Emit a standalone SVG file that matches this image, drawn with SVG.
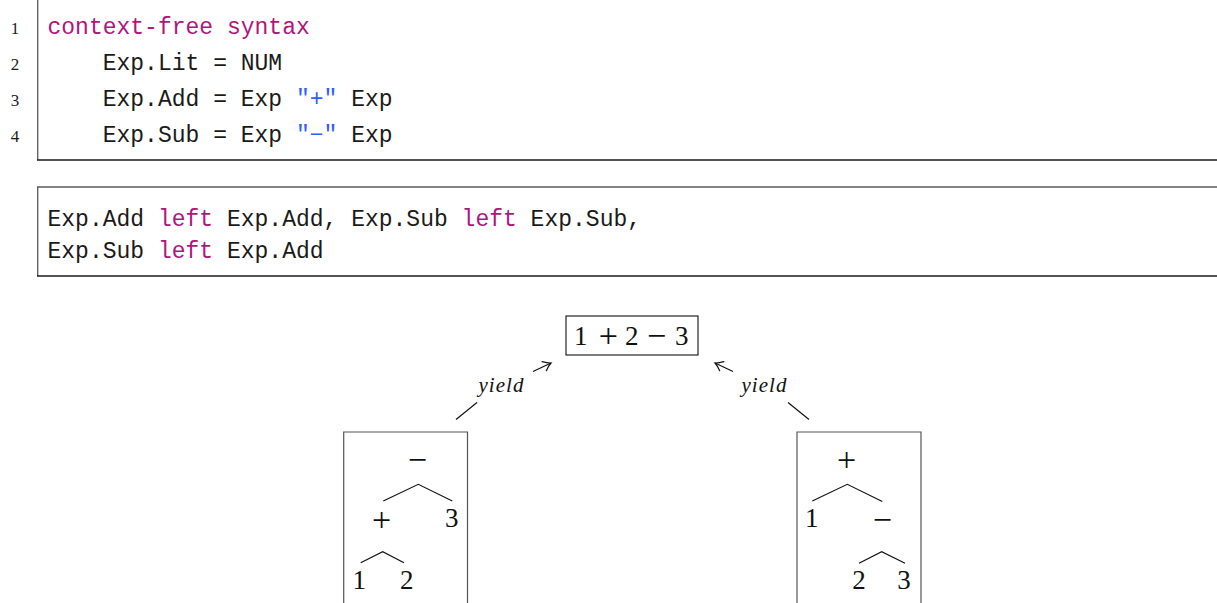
<svg xmlns="http://www.w3.org/2000/svg" width="1217" height="603" viewBox="0 0 1217 603">
  <style>
    .code { font-family: "Liberation Mono", "DejaVu Sans Mono", monospace; font-size: 23px; fill: #1a1a1a; white-space: pre; }
    .kw { fill: #b0157e; }
    .str { fill: #2f5cff; }
    .lnum { font-family: "Liberation Serif", serif; font-size: 17px; fill: #1a1a1a; text-anchor: middle; }
    .frame-soft { stroke: #5a5a5a; stroke-width: 1.3; fill: none; }
    .frame-hard { stroke: #1a1a1a; stroke-width: 1.5; fill: none; }
    .math { font-family: "Liberation Serif", "DejaVu Serif", serif; font-size: 27px; fill: #111; text-anchor: middle; }
    .op { font-family: "Liberation Serif", "DejaVu Serif", serif; font-size: 34px; fill: #111; text-anchor: middle; }
    .lbl { font-family: "Liberation Serif", "DejaVu Serif", serif; font-style: italic; font-size: 21px; fill: #111; text-anchor: middle; }
    .edge { stroke: #111; stroke-width: 1.2; fill: none; }
    .box { stroke: #555; stroke-width: 1.2; fill: none; }
  </style>
  <defs>
    <marker id="to" markerUnits="userSpaceOnUse" markerWidth="16" markerHeight="16" viewBox="-10 -8 12 16" refX="0" refY="0" orient="auto">
      <path d="M -7.5 -5 Q -3 -1.2 0 0 Q -3 1.2 -7.5 5" fill="none" stroke="#111" stroke-width="1.2" stroke-linecap="round"/>
    </marker>
  </defs>

  <rect width="1217" height="603" fill="#ffffff"/>

  <!-- grammar listing -->
  <g id="code-decl">
    <line class="frame-soft" x1="37.7" y1="0" x2="37.7" y2="160"/>
    <line class="frame-hard" x1="37" y1="160" x2="1217" y2="160"/>
    <text class="lnum" x="15" y="34">1</text>
    <text class="lnum" x="15" y="70">2</text>
    <text class="lnum" x="15" y="106">3</text>
    <text class="lnum" x="15" y="142">4</text>
    <text class="code" x="47.5" y="34"><tspan class="kw">context-free syntax</tspan></text>
    <text class="code" x="47.5" y="70">    Exp.Lit = NUM</text>
    <text class="code" x="47.5" y="106">    Exp.Add = Exp <tspan class="str">"+"</tspan> Exp</text>
    <text class="code" x="47.5" y="142">    Exp.Sub = Exp <tspan class="str">"−"</tspan> Exp</text>
  </g>

  <!-- priority declarations -->
  <g id="code-prio">
    <line class="frame-soft" x1="37" y1="187" x2="1217" y2="187"/>
    <line class="frame-soft" x1="37.7" y1="187" x2="37.7" y2="276"/>
    <line class="frame-hard" x1="37" y1="276" x2="1217" y2="276"/>
    <text class="code" x="47.5" y="226">Exp.Add <tspan class="kw">left</tspan> Exp.Add, Exp.Sub <tspan class="kw">left</tspan> Exp.Sub,</text>
    <text class="code" x="47.5" y="258">Exp.Sub <tspan class="kw">left</tspan> Exp.Add</text>
  </g>

  <!-- sentence -->
  <g id="formula">
    <rect x="566" y="316" width="132" height="39" fill="none" stroke="#111" stroke-width="1.1"/>
    <text class="math" x="580.7" y="345">1</text>
    <text class="op" x="608.3" y="347">+</text>
    <text class="math" x="631.7" y="345">2</text>
    <text class="op" x="656.7" y="347">−</text>
    <text class="math" x="681.7" y="345">3</text>
  </g>

  <!-- left-associative tree: (1 + 2) − 3 -->
  <g id="tree-left">
    <path class="box" d="M 343.7 603 V 432 H 467.5 V 603"/>
    <text class="op" x="417.3" y="470.5">−</text>
    <path class="edge" d="M 383.3 501 L 418.3 484.3 L 452.3 501"/>
    <text class="op" x="381.7" y="531">+</text>
    <text class="math" x="451.7" y="527">3</text>
    <path class="edge" d="M 360.7 562.7 L 382.7 551.7 L 404 562.7"/>
    <text class="math" x="359.3" y="588.5">1</text>
    <text class="math" x="406.7" y="588.5">2</text>
  </g>

  <!-- right-associative tree: 1 + (2 − 3) -->
  <g id="tree-right">
    <path class="box" d="M 797 603 V 432 H 921 V 603"/>
    <text class="op" x="846.7" y="471">+</text>
    <path class="edge" d="M 812.3 501 L 847.3 484.3 L 882.3 501.5"/>
    <text class="math" x="811.7" y="527">1</text>
    <text class="op" x="882.3" y="530.5">−</text>
    <path class="edge" d="M 859 563.3 L 881.7 551.7 L 905 563.3"/>
    <text class="math" x="859" y="588.5">2</text>
    <text class="math" x="904" y="588.5">3</text>
  </g>

  <!-- yield connectors -->
  <g id="connectors">
    <line class="edge" x1="456" y1="419.5" x2="477" y2="402.5"/>
    <line class="edge" x1="533" y1="371.5" x2="551" y2="363" marker-end="url(#to)"/>
    <text class="lbl" x="501" y="392" textLength="45" lengthAdjust="spacing">yield</text>
    <line class="edge" x1="809" y1="419.5" x2="788" y2="402.5"/>
    <line class="edge" x1="733" y1="371.5" x2="715" y2="363" marker-end="url(#to)"/>
    <text class="lbl" x="764" y="392" textLength="45" lengthAdjust="spacing">yield</text>
  </g>
</svg>
